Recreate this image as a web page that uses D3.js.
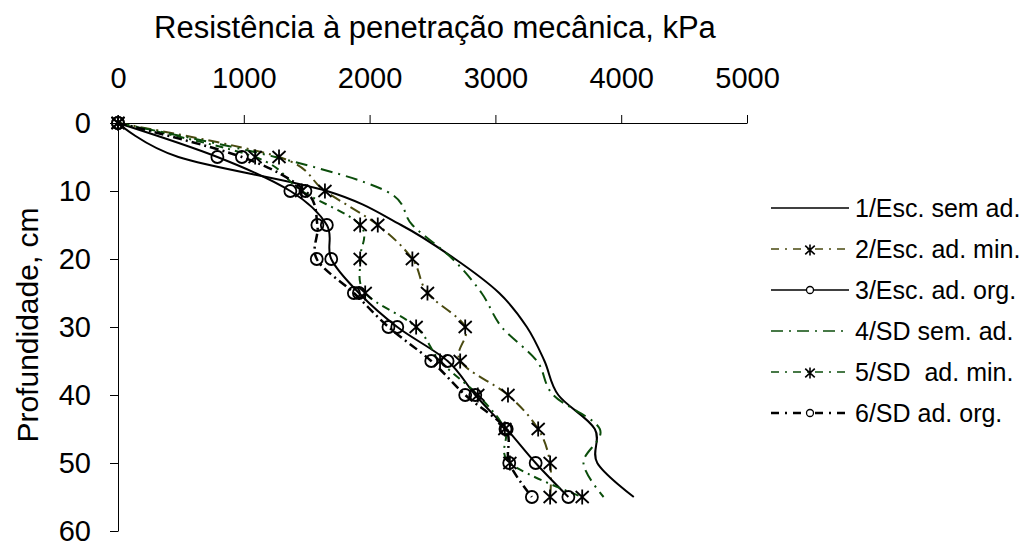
<!DOCTYPE html>
<html>
<head>
<meta charset="utf-8">
<script src="https://cdn.jsdelivr.net/npm/d3@7"></script>
<style>
  body { margin: 0; background: #fff; }
  text { font-family: "Liberation Sans", Arial, sans-serif; fill: #000; }
</style>
</head>
<body>
<script>
(function() {
  var depths = [0, 5, 10, 15, 20, 25, 30, 35, 40, 45, 50, 55];

  var escSemAd = [0, 480, 1660, 2250, 2680, 3030, 3250, 3390, 3500, 3790, 3810, 4100];
  var escAdMin = [0, 1280, 1645, 2065, 2340, 2460, 2760, 2720, 3100, 3340, 3435, 3435];
  var escAdOrg = [0, 790, 1370, 1660, 1695, 1915, 2220, 2620, 2840, 3090, 3320, 3580];
  var sdSemAd = [0, 1250, 2130, 2340, 2660, 2890, 3050, 3330, 3460, 3830, 3700, 3860];
  var sdAdMin = [0, 1090, 1460, 1925, 1925, 1965, 2370, 2560, 2860, 3075, 3115, 3690];
  var sdAdOrg = [0, 985, 1490, 1585, 1580, 1875, 2150, 2490, 2760, 3080, 3110, 3290];

  var seriesNames = ['1/Esc. sem ad.', '2/Esc. ad. min.', '3/Esc. ad. org.', '4/SD sem. ad.', '5/SD\u00a0 ad. min.', '6/SD ad. org.'];
  var xTicks = [0, 1000, 2000, 3000, 4000, 5000];
  var yTicks = [0, 10, 20, 30, 40, 50, 60];

  var series = [
    { name: seriesNames[0], vals: escSemAd, color: '#000', dash: null, width: 2, marker: null },
    { name: seriesNames[1], vals: escAdMin, color: '#4a4a10', dash: '11,5,2,5', width: 2, marker: 'star' },
    { name: seriesNames[2], vals: escAdOrg, color: '#000', dash: null, width: 2, marker: 'circle' },
    { name: seriesNames[3], vals: sdSemAd, color: '#0b4d0b', dash: '12,6,2,6', width: 2, marker: null },
    { name: seriesNames[4], vals: sdAdMin, color: '#0b4d0b', dash: '8,5,2,5', width: 2, marker: 'star' },
    { name: seriesNames[5], vals: sdAdOrg, color: '#000', dash: '9,4,2,4', width: 2.5, marker: 'circle' }
  ];

  var W = 1032, H = 542;
  var svg = d3.select('body').append('svg').attr('width', W).attr('height', H);

  var x = d3.scaleLinear().domain([0, 5000]).range([118, 747]);
  var y = d3.scaleLinear().domain([0, 60]).range([123, 531]);

  // axes
  var xAxis = svg.append('g').attr('transform', 'translate(0,123)')
    .call(d3.axisTop(x).tickValues(xTicks).tickFormat(d3.format('d')).tickSizeInner(8).tickSizeOuter(0).tickPadding(27));
  var yAxis = svg.append('g').attr('transform', 'translate(118,0)')
    .call(d3.axisLeft(y).tickValues(yTicks).tickSizeInner(8).tickSizeOuter(0).tickPadding(19));

  [xAxis, yAxis].forEach(function(a) {
    a.select('.domain').attr('stroke', '#000').attr('stroke-width', 1);
    a.selectAll('.tick line').attr('stroke', '#000').attr('stroke-width', 1);
    a.selectAll('.tick text').style('font-size', '29px').attr('fill', '#000');
  });

  svg.append('text').attr('x', 435).attr('y', 38).attr('text-anchor', 'middle')
    .style('font-size', '31px').text('Resistência à penetração mecânica, kPa');

  svg.append('text').attr('transform', 'translate(38,325) rotate(-90)').attr('text-anchor', 'middle')
    .style('font-size', '30px').text('Profundidade, cm');

  var line = d3.line()
    .x(function(d) { return x(d.v); })
    .y(function(d) { return y(d.d); })
    .curve(d3.curveCardinal.tension(0));

  var star = function(g, cx, cy, r, sw) {
    g.append('path')
      .attr('d', 'M' + cx + ',' + (cy - r) + 'V' + (cy + r) +
        'M' + (cx - r * 0.87) + ',' + (cy - r * 0.8) + 'L' + (cx + r * 0.87) + ',' + (cy + r * 0.8) +
        'M' + (cx - r * 0.87) + ',' + (cy + r * 0.8) + 'L' + (cx + r * 0.87) + ',' + (cy - r * 0.8))
      .attr('stroke', '#000').attr('stroke-width', sw).attr('fill', 'none');
  };

  series.forEach(function(s) {
    var pts = depths.map(function(d, i) { return { d: d, v: s.vals[i] }; });
    svg.append('path').datum(pts).attr('d', line)
      .attr('fill', 'none').attr('stroke', s.color).attr('stroke-width', s.width)
      .attr('stroke-dasharray', s.dash);
  });

  series.forEach(function(s) {
    if (!s.marker) return;
    var g = svg.append('g');
    depths.forEach(function(d, i) {
      var cx = x(s.vals[i]), cy = y(d);
      if (s.marker === 'star') star(g, cx, cy, 7.5, 1.8);
      else g.append('circle').attr('cx', cx).attr('cy', cy).attr('r', 6)
        .attr('fill', 'none').attr('stroke', '#000').attr('stroke-width', 1.8);
    });
  });

  // legend
  var lg = svg.append('g');
  series.forEach(function(s, i) {
    var ly = 208 + i * 41;
    lg.append('line').attr('x1', 771).attr('x2', 849).attr('y1', ly).attr('y2', ly)
      .attr('stroke', s.color).attr('stroke-width', s.width === 2.5 ? 2.5 : 1.6)
      .attr('stroke-dasharray', s.dash ? (i === 3 ? '12,6,2,6' : '8,6,2,6') : null);
    if (s.marker === 'star') star(lg, 810, ly + 1, 5.5, 1.6);
    if (s.marker === 'circle') lg.append('circle').attr('cx', 810).attr('cy', ly).attr('r', 3.5)
      .attr('fill', '#fff').attr('stroke', '#000').attr('stroke-width', 1.3);
    lg.append('text').attr('x', 855).attr('y', ly).attr('dy', '0.35em')
      .style('font-size', '25px').text(s.name);
  });
})();
</script>
</body>
</html>
